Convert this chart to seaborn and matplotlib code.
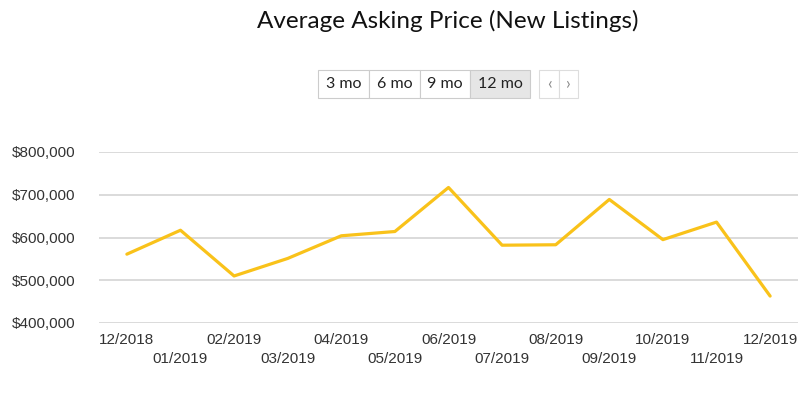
import matplotlib
matplotlib.use("Agg")
import matplotlib.pyplot as plt
from matplotlib.ticker import FuncFormatter
import pandas as pd
import seaborn as sns

# Data
months = ["12/2018", "01/2019", "02/2019", "03/2019", "04/2019", "05/2019", "06/2019",
          "07/2019", "08/2019", "09/2019", "10/2019", "11/2019", "12/2019"]
asking_price = [561000, 617000, 510000, 551000, 604000, 614000, 717000,
                582000, 583000, 689000, 595000, 636000, 463000]
y_ticks = [400000, 500000, 600000, 700000, 800000]
range_buttons = ["3 mo", "6 mo", "9 mo", "12 mo"]
selected_button = "12 mo"

df = pd.DataFrame({"month": months, "price": asking_price})
df["idx"] = range(len(df))

sns.set_style("white")
plt.rcParams["font.family"] = ["Liberation Sans", "DejaVu Sans"]

fig = plt.figure(figsize=(8.12, 3.96), dpi=100)
ax = fig.add_axes([99 / 812, 1 - 323 / 396, 699 / 812, 171 / 396])

sns.lineplot(data=df, x="idx", y="price", ax=ax, color="#F9C21A", linewidth=2.3)

ax.set_ylim(400000, 800000)
ax.set_xlim(-0.52, len(months) - 0.48)
ax.set_yticks(y_ticks)
ax.yaxis.set_major_formatter(FuncFormatter(lambda v, p: f"${v:,.0f}"))
ax.set_xticks(df["idx"])
ax.set_xticklabels([m if i % 2 == 0 else "\n" + m for i, m in enumerate(months)],
                   linespacing=1.5)
ax.grid(axis="y", color="#d8d8d8", linewidth=1.3)
ax.set_axisbelow(True)
for s in ax.spines.values():
    s.set_visible(False)
ax.tick_params(axis="both", length=0, labelsize=11, labelcolor="#333333")
ax.tick_params(axis="y", pad=17)
ax.tick_params(axis="x", pad=7)
ax.set_xlabel("")
ax.set_ylabel("")

# title
fig.text(448 / 812, 1 - 21 / 396, "Average Asking Price (New Listings)",
         ha="center", va="center", fontsize=17.5, family=["Lato", "DejaVu Sans"],
         color="#111111")

# range selector buttons
W, H = 812, 396
edges = [318, 369, 420, 470, 530]
top, bot = 70, 98
for i, label in enumerate(range_buttons):
    x0, x1 = edges[i], edges[i + 1]
    face = "#e6e6e6" if label == selected_button else "white"
    fig.patches.append(plt.Rectangle((x0 / W, 1 - bot / H), (x1 - x0) / W, (bot - top) / H,
                                     transform=fig.transFigure, facecolor=face,
                                     edgecolor="#cccccc", linewidth=0.8))
    fig.text((x0 + x1) / 2 / W, 1 - (top + bot) / 2 / H, label, ha="center", va="center",
             fontsize=11.5, family=["Lato", "DejaVu Sans"], color="#222222")
nav = [539, 559, 578]
for i, ch in enumerate(["‹", "›"]):
    x0, x1 = nav[i], nav[i + 1]
    fig.patches.append(plt.Rectangle((x0 / W, 1 - bot / H), (x1 - x0) / W, (bot - top) / H,
                                     transform=fig.transFigure, facecolor="white",
                                     edgecolor="#dddddd", linewidth=0.8))
    fig.text((x0 + x1) / 2 / W, 1 - (top + bot) / 2 / H, ch, ha="center", va="center",
             fontsize=12, family=["Lato", "DejaVu Sans"], color="#888888")

fig.savefig("out.png", dpi=100)
